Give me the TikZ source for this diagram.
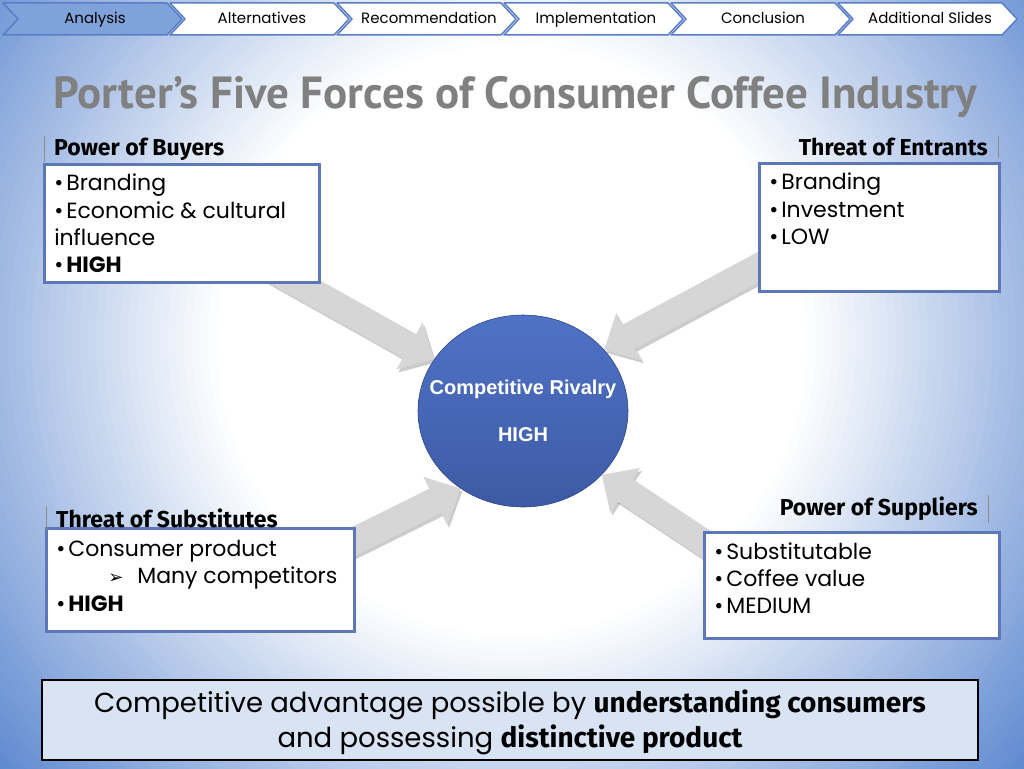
\documentclass[tikz,border=0pt]{standalone}
\usepackage{fontspec}
\usetikzlibrary{arrows.meta,shapes.geometric,shadows}
\newfontfamily\headfont{PT Sans}
\newfontfamily\boldfont{Fira Sans}
\newfontfamily\arialfont{Liberation Sans}
\newfontfamily\symbfont{DejaVu Sans}
\newfontfamily\gothic{Poppins}
\definecolor{bgdeep}{HTML}{5A86CF}
\definecolor{navblue}{HTML}{7FA2DB}
\definecolor{navedge}{HTML}{5A7EC6}
\definecolor{boxedge}{HTML}{5D77B8}
\definecolor{disctop}{HTML}{5072C6}
\definecolor{discbot}{HTML}{3D5AA4}
\definecolor{arrowgray}{HTML}{D6D6D6}
\definecolor{titlegray}{HTML}{808080}
\definecolor{summaryfill}{HTML}{D8E3F3}
\pgfdeclarelayer{back}
\pgfsetlayers{back,main}
\tikzset{
  navstep/.style={draw=navedge, line width=1.5pt, line join=round},
  navtext/.style={anchor=base, font=\gothic\fontsize{15}{17}\selectfont, text=black},
  pagetitle/.style={anchor=west, text=titlegray, font=\headfont\bfseries\fontsize{45}{50}\selectfont},
  forcehead/.style={inner xsep=10pt, inner ysep=2pt, font=\boldfont\bfseries\fontsize{23}{26}\selectfont},
  headrule/.style={draw=black!45, line width=0.6pt},
  forcebox/.style={anchor=north west, draw=boxedge, line width=2.5pt, fill=white, inner xsep=10pt, inner ysep=10pt,
    font=\gothic\fontsize{22}{27.3}\selectfont, drop shadow={shadow xshift=2pt, shadow yshift=-2pt, opacity=.35}},
  rivalrydisc/.style={ellipse, minimum width=210pt, minimum height=192pt, inner sep=0pt, top color=disctop, bottom color=discbot,
    draw=discbot!80!black, line width=0.6pt, text=white, align=center, font=\arialfont\bfseries\fontsize{20}{47}\selectfont},
  bigarrow/.style={line width=27pt, draw=arrowgray, -{Triangle[length=28pt, width=52pt]}},
  bigarrowshade/.style={bigarrow, draw=black, opacity=.2, transform canvas={shift={(2pt,-3pt)}}},
  summarybox/.style={draw=black, line width=2.5pt, fill=summaryfill, minimum width=936pt, minimum height=80pt,
    align=center, font=\gothic\fontsize{27.5}{35}\selectfont},
}
\begin{document}
\begin{tikzpicture}[x=1pt, y=-1pt]
\useasboundingbox (0,0) rectangle (1024,768);
\begin{pgfonlayer}{back}
\begin{scope}
\clip (0,0) rectangle (1024,768);
\fill[bgdeep] (0,0) rectangle (1024,768);
\foreach \k in {0,...,48} {
  \pgfmathtruncatemacro\mix{100-\k*100/48}
  \fill[bgdeep!\mix!white] (512,340) circle ({680-8*\k});
}
\end{scope}
\end{pgfonlayer}

\foreach \lab/\navfill [count=\i from 0] in {Analysis/navblue, Alternatives/white, Recommendation/white,
    Implementation/white, Conclusion/white, Additional Slides/white} {
  \pgfmathsetmacro\tip{182+167*\i}
  \draw[navstep, fill=\navfill] (\tip-179,3) -- (\tip-15,3) -- (\tip,19) -- (\tip-15,35) -- (\tip-179,35) -- (\tip-164,19) -- cycle;
  \node[navtext] (nav\i) at (\tip-87,24) {\lab};
}

\node[pagetitle] (title) at (50,97) {Porter’s Five Forces of Consumer Coffee Industry};

\node[forcebox] (buyers) at (43,163) {\parbox[t][98pt][t]{255pt}{\raggedright
  \textbullet\hspace{3pt}Branding\\ \textbullet\hspace{3pt}Economic \& cultural\\influence\\ \textbullet\hspace{3pt}\textbf{HIGH}}};
\node[forcebox] (entrants) at (758,162) {\parbox[t][108pt][t]{220pt}{\raggedright
  \textbullet\hspace{3pt}Branding\\ \textbullet\hspace{3pt}Investment\\ \textbullet\hspace{3pt}LOW}};
\node[forcebox, inner ysep=12pt] (subst) at (45,527) {\parbox[t][79pt][t]{288pt}{\raggedright
  \textbullet\hspace{3pt}Consumer product\\ \hspace*{52pt}{\symbfont\fontsize{18}{20}\selectfont ➢}\hspace{14pt}Many competitors\\ \textbullet\hspace{3pt}\textbf{HIGH}}};
\node[forcebox] (suppl) at (703,531) {\parbox[t][86pt][t]{275pt}{\raggedright
  \textbullet\hspace{3pt}Substitutable\\ \textbullet\hspace{3pt}Coffee value\\ \textbullet\hspace{3pt}MEDIUM}};

\node[forcehead, anchor=west] (hbuyers) at (44,149) {Power of Buyers};
\node[forcehead, anchor=east] (hentrants) at (998,147) {Threat of Entrants};
\node[forcehead, anchor=west] (hsubst) at (46,518) {Threat of Substitutes};
\node[forcehead, anchor=east] (hsuppl) at (988,509) {Power of Suppliers};
\draw[headrule] (hbuyers.north west) -- (hbuyers.south west);
\draw[headrule] (hentrants.north east) -- (hentrants.south east);
\draw[headrule] (hsubst.north west) -- (hsubst.south west);
\draw[headrule] (hsuppl.north east) -- (hsuppl.south east);

\node[rivalrydisc] (rivalry) at (523,411) {\makebox[0pt]{Competitive Rivalry}\\\makebox[0pt]{HIGH}};

\coordinate (tailbuyers) at (265,265);
\coordinate (tailentrants) at (790,250);
\coordinate (tailsubst) at (330,553);
\coordinate (tailsuppl) at (730,560);
\begin{pgfonlayer}{back}
\foreach \t/\a in {tailbuyers/150, tailentrants/37, tailsubst/231, tailsuppl/321} {
  \draw[bigarrowshade] (\t) -- (rivalry.\a);
  \draw[bigarrow] (\t) -- (rivalry.\a);
}
\end{pgfonlayer}

\node[summarybox] (summary) at (510,720) {\rule{0pt}{28pt}Competitive advantage possible by {\boldfont\bfseries\fontsize{28}{35}\selectfont understanding consumers}\\
  and possessing {\boldfont\bfseries\fontsize{28}{35}\selectfont distinctive product}};
\end{tikzpicture}
\end{document}
